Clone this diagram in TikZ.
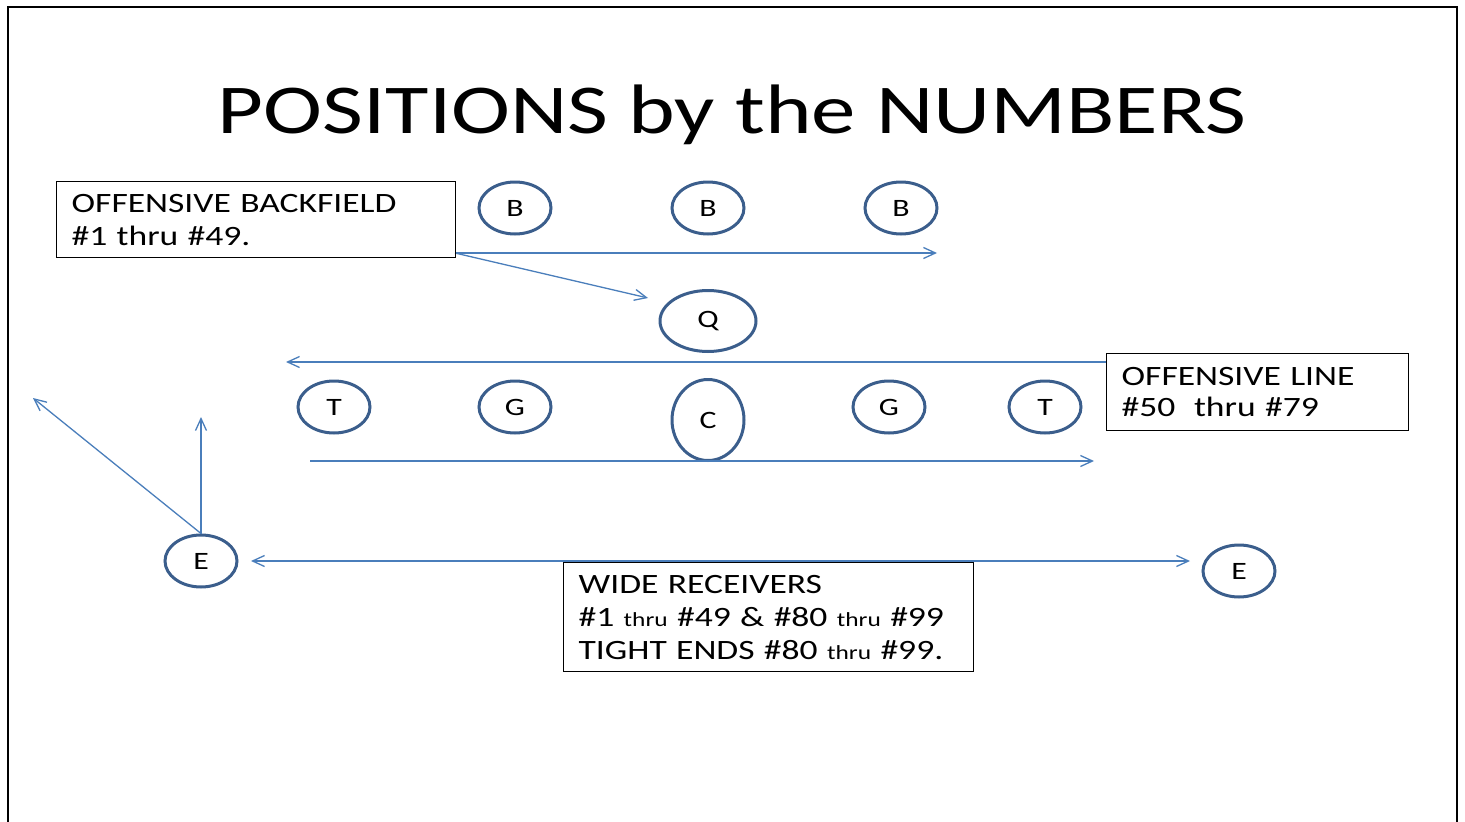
\documentclass[tikz,border=0pt]{standalone}
\usepackage{fontspec}
\setmainfont[FakeStretch=1.27]{Carlito}
\usetikzlibrary{shapes.geometric,arrows.meta}
\definecolor{ringblue}{RGB}{59,94,140}
\definecolor{routeblue}{RGB}{74,126,187}
\tikzset{
  player/.style={ellipse, draw=ringblue, line width=3pt, minimum width=72pt, minimum height=52pt, inner sep=0pt, font=\fontsize{25}{25}\selectfont},
  infobox/.style={draw=black, line width=1.3pt, anchor=north west, align=left, inner xsep=15pt, inner ysep=0pt, font=\fontsize{28}{33}\selectfont},
  route/.style={draw=routeblue, line width=1.3pt, -{Straight Barb[length=12pt,width=11pt]}}
}
\newcommand{\smallthru}{{\fontsize{20}{20}\selectfont thru}}
\begin{document}
\begin{tikzpicture}[x=1pt,y=1pt,yscale=-1,xscale=1]
        \useasboundingbox (0,0) rectangle (1465,822);
        \draw [line width=2.5pt] (8,822) -- (8,7) -- (1457,7) -- (1457,822) ;

        \node (title) [anchor=base, font=\fontsize{70}{70}\selectfont] at (732,133) {POSITIONS by the NUMBERS};

        \foreach \px/\py/\pl/\pn in {515/208/B/back1,708/208/B/back2,901/208/B/back3,334/407/T/tackle1,515/407/G/guard1,889/407/G/guard2,1045/407/T/tackle2,201/561/E/endL,1239/571/E/endR}{
            \node [player] (\pn) at (\px,\py) {\pl};
        }
        \node [player, minimum width=96pt, minimum height=61pt] (quarter) at (708,321) {Q};
        \node [player, minimum width=72pt, minimum height=81pt] (center) at (708,420) {C};

        \coordinate (bfout) at (455,253);
        \coordinate (bfend) at (937,253);
        \coordinate (qtip) at (648,298);
        \coordinate (olout) at (1106,362);
        \coordinate (oltip) at (286,362);
        \coordinate (lowstart) at (310,461);
        \coordinate (lowtip) at (1094,461);
        \coordinate (uptip) at (201,417);
        \coordinate (diagtip) at (33,398);
        \coordinate (wrout) at (937,561);
        \coordinate (wrleft) at (251,561);
        \coordinate (wrright) at (1190,561);

        \draw [route] (bfout) -- (bfend) ;
        \draw [route] (bfout) -- (qtip) ;
        \draw [route] (olout) -- (oltip) ;
        \draw [route] (lowstart) -- (lowtip) ;
        \draw [route] (endL.north) -- (uptip) ;
        \draw [route] (endL.north) -- (diagtip) ;
        \draw [route] (wrout) -- (wrleft) ;
        \draw [route] (wrout) -- (wrright) ;

        \node [infobox, text width=369pt, minimum height=76pt] (backfield) at (56,181) {OFFENSIVE BACKFIELD\\\#1 thru \#49.};
        \node [infobox, text width=272pt, minimum height=77pt, font=\fontsize{28}{31}\selectfont] (oline) at (1106,353) {OFFENSIVE LINE\\\#50\ \ thru \#79};
        \node [infobox, text width=380pt, minimum height=109pt] (receivers) at (563,562) {WIDE RECEIVERS\\\#1 \smallthru{} \#49 \& \#80 \smallthru{} \#99\\TIGHT ENDS \#80 \smallthru{} \#99.};
    \end{tikzpicture}
\end{document}
